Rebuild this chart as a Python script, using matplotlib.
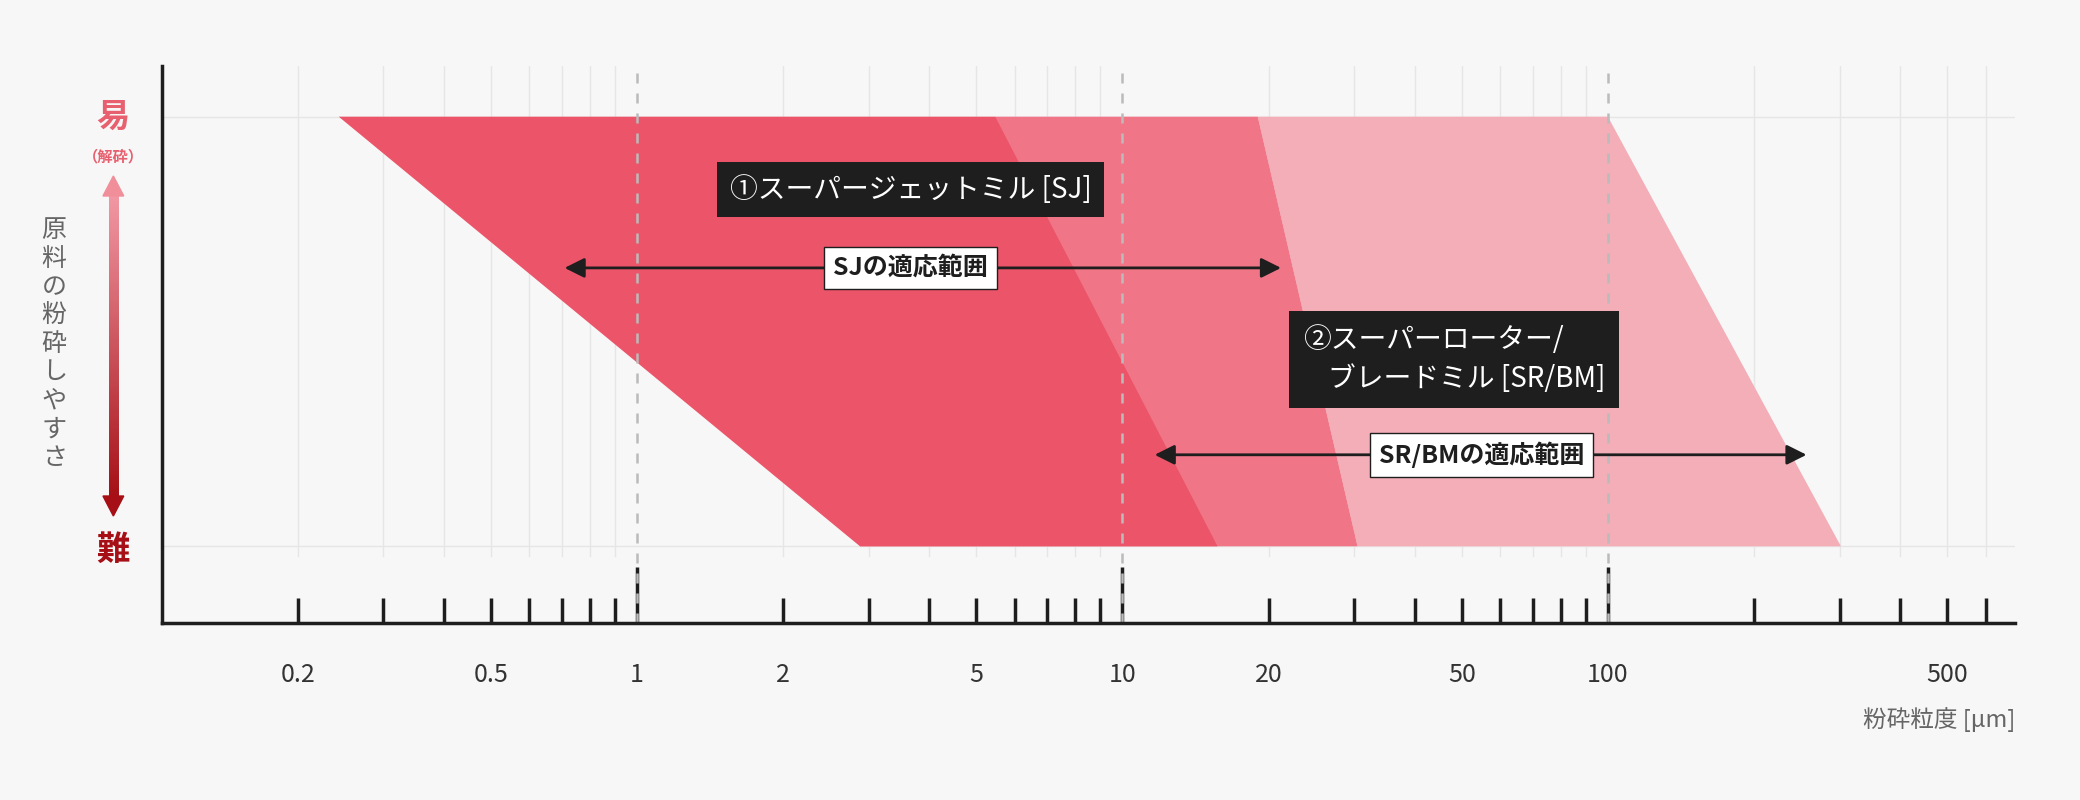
import matplotlib
matplotlib.use("Agg")
import matplotlib.pyplot as plt
import numpy as np
from matplotlib.colors import LinearSegmentedColormap

plt.rcParams['font.family'] = ['Noto Sans CJK JP', 'DejaVu Sans']

# data
sj_top = [0.243, 5.47]; sj_bot = [2.88, 15.7]
mid_top = [5.47, 19.0]; mid_bot = [2.88, 30.5]
light_top = [19.0, 100.0]; light_bot = [30.5, 302.0]
sj_range = [0.7, 21.5]
sr_range = [11.5, 260.0]
tick_vals = [0.2, 0.5, 1, 2, 5, 10, 20, 50, 100, 500]
tick_labels = ["0.2", "0.5", "1", "2", "5", "10", "20", "50", "100", "500"]

bg = "#F7F7F7"
fig = plt.figure(figsize=(20.8, 8), dpi=100, facecolor=bg)
ax = fig.add_axes([0.0778, 0.221, 0.891, 0.696], facecolor=bg)
ax.set_xscale('log')
ax.set_xlim(0.105, 690)
ax.set_ylim(-0.179, 1.117)

minor = [m * 10.0**e for e in range(-1, 3) for m in range(2, 10)]
minor = [v for v in minor if 0.105 < v < 690]
for v in minor:
    ax.axvline(v, ymin=0.12, color="#E6E6E6", lw=1, zorder=0)
for yv in [0, 1]:
    ax.axhline(yv, color="#E6E6E6", lw=1, zorder=0)

def poly(top, bot, c):
    ax.fill([top[0], top[1], bot[1], bot[0]], [1, 1, 0, 0], color=c, lw=0, zorder=1)
poly(light_top, light_bot, "#F3AEB7")
poly(mid_top, mid_bot, "#F07586")
poly(sj_top, sj_bot, "#EC5469")

for v in [1, 10, 100]:
    ax.axvline(v, color="#BBBBBB", lw=1.8, ls=(0, (4, 4)), zorder=2)

# arrows
for rng, yv in [(sj_range, 0.648), (sr_range, 0.213)]:
    ax.annotate("", xy=(rng[0], yv), xytext=(rng[1], yv),
                arrowprops=dict(arrowstyle="<|-|>", color="#1E1E1E", lw=2,
                                mutation_scale=30), zorder=4)

ax.text(3.66, 0.83, "①スーパージェットミル [SJ]", fontsize=20, color="white",
        ha="center", va="center", zorder=5,
        bbox=dict(boxstyle="square,pad=0.45", fc="#1E1E1E", ec="none"))
ax.text(3.66, 0.648, "SJの適応範囲", fontsize=18, color="#1E1E1E", fontweight="bold",
        ha="center", va="center", zorder=5,
        bbox=dict(boxstyle="square,pad=0.35", fc="white", ec="#1E1E1E", lw=1))
ax.text(23.5, 0.435, "②スーパーローター/\n    ブレードミル [SR/BM]", fontsize=20, color="white",
        ha="left", va="center", zorder=5, linespacing=1.4,
        bbox=dict(boxstyle="square,pad=0.5", fc="#1E1E1E", ec="none"))
ax.text(55, 0.213, "SR/BMの適応範囲", fontsize=18, color="#1E1E1E", fontweight="bold",
        ha="center", va="center", zorder=5,
        bbox=dict(boxstyle="square,pad=0.35", fc="white", ec="#1E1E1E", lw=1))

for s in ["top", "right"]:
    ax.spines[s].set_visible(False)
for s in ["left", "bottom"]:
    ax.spines[s].set_linewidth(2.5)
    ax.spines[s].set_color("#1E1E1E")
ax.set_yticks([])
ax.set_xticks(tick_vals)
ax.set_xticklabels(tick_labels, fontsize=18, color="#333333")
ax.set_xticks(minor, minor=True)
ax.xaxis.set_minor_formatter(matplotlib.ticker.NullFormatter())
ax.tick_params(axis='x', which='major', direction='in', length=20, width=2.5, color="#1E1E1E", pad=28)
ax.tick_params(axis='x', which='minor', direction='in', length=18, width=2.5, color="#1E1E1E")
for t in ax.xaxis.get_major_ticks():
    if t.get_loc() not in (1, 10, 100):
        t.tick1line.set_markersize(18)
    else:
        t.tick1line.set_markersize(40)

fig.text(0.969, 0.10, "粉砕粒度 [μm]", fontsize=17, color="#666666", ha="right", va="center")

# left labels
fig.text(0.0545, 0.853, "易", fontsize=24, fontweight="bold", color="#E8606F", ha="center", va="center")
fig.text(0.0545, 0.805, "（解砕）", fontsize=11, fontweight="bold", color="#E8606F", ha="center", va="center")
fig.text(0.0545, 0.312, "難", fontsize=24, fontweight="bold", color="#A50F15", ha="center", va="center")
fig.text(0.026, 0.57, "\n".join("原料の粉砕しやすさ"), fontsize=18, color="#666666",
         ha="center", va="center", linespacing=1.12)

# gradient arrow
cmap = LinearSegmentedColormap.from_list("g", ["#F29AA6", "#A50F15"])
gax = fig.add_axes([0.0525, 0.375, 0.0045, 0.385])
gax.imshow(np.linspace(0, 1, 256)[:, None], aspect="auto", cmap=cmap)
gax.axis("off")
fig.patches.append(matplotlib.patches.Polygon([[0.0495, 0.755], [0.0595, 0.755], [0.0545, 0.78]],
                   closed=True, transform=fig.transFigure, color="#F08E9A"))
fig.patches.append(matplotlib.patches.Polygon([[0.0495, 0.38], [0.0595, 0.38], [0.0545, 0.355]],
                   closed=True, transform=fig.transFigure, color="#A50F15"))

fig.savefig("out.png", dpi=100, facecolor=bg)
